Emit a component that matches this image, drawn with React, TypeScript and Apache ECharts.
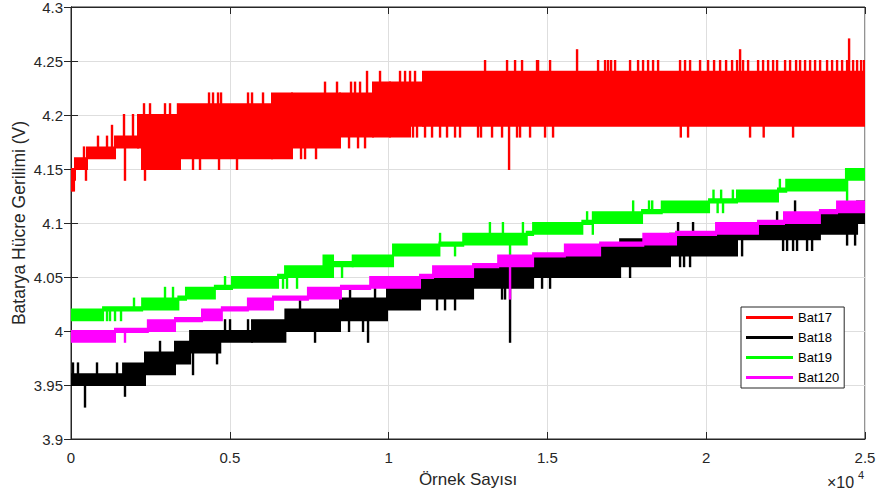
import React, { useEffect, useRef } from 'react';
import * as echarts from 'echarts';

// ---------- data (x in samples, y in volts) ----------
const xMax = 25000;
const xTickLabels = ['0', '0.5', '1', '1.5', '2', '2.5'];
const yTickLabels = ['3.9', '3.95', '4', '4.05', '4.1', '4.15', '4.2', '4.25', '4.3'];
const seriesNames = ['Bat17', 'Bat18', 'Bat19', 'Bat120'];
const seriesColors = ['#ff0000', '#000000', '#00ff00', '#ff00ff'];

// Bat17: band segments (start sample, low level, high level) + spikes
const bat17Start = [0, 126, 504, 1386, 2110, 2236, 3432, 6329, 6958, 8470, 9509, 10044, 10674, 11083];
const bat17Lo = [4.14, 4.15, 4.16, 4.17, 4.17, 4.15, 4.16, 4.16, 4.17, 4.18, 4.18, 4.18, 4.19, 4.19];
const bat17Hi = [4.15, 4.16, 4.17, 4.18, 4.2, 4.2, 4.21, 4.22, 4.22, 4.22, 4.23, 4.23, 4.23, 4.24];
const bat17SpikeX = [30, 90, 409, 472, 850, 1134, 1291, 1669, 1700, 1952, 2299, 2330, 2488, 2960, 3118, 3369,
  3842, 4062, 4661, 5227, 4346, 4472, 4629, 4724, 5574, 5700, 6046, 7243, 7369, 7715, 8754, 9038, 9258,
  7998, 8376, 8817, 8943, 9101, 9321, 9730, 10360, 10518, 10675, 10832,
  13037, 13730, 13793, 13982, 14202, 14674, 14706, 15084, 15934, 16595, 16816, 16910, 17005, 17131, 17603,
  17855, 18012, 18170, 18327, 18485, 19177, 19334, 19492, 19807, 20059, 20248, 20437, 20626, 20815, 20972,
  21067, 21161, 21319, 21634, 21791, 21949, 22106, 22232, 22484, 22641, 22830, 22956, 23113, 23271, 23428,
  23586, 23806, 23964, 24121, 24279, 24436, 24499, 24625, 24751, 24877, 24971,
  10769, 10895, 11147, 11368, 11620, 11840, 12092, 12249, 12816, 12910, 13257, 13572, 14044, 14139, 14454,
  14926, 15178, 19200, 19429, 21381, 21810, 22735];
const bat17SpikeV = [4.13, 4.13, 4.17, 4.14, 4.18, 4.18, 4.19, 4.2, 4.14, 4.2, 4.21, 4.14, 4.21, 4.21, 4.21, 4.21,
  4.15, 4.15, 4.15, 4.15, 4.22, 4.22, 4.22, 4.22, 4.22, 4.22, 4.22, 4.16, 4.16, 4.16, 4.17, 4.17, 4.17,
  4.23, 4.23, 4.23, 4.23, 4.23, 4.24, 4.24, 4.24, 4.24, 4.24, 4.24,
  4.25, 4.25, 4.15, 4.25, 4.25, 4.25, 4.25, 4.25, 4.26, 4.25, 4.25, 4.25, 4.25, 4.25, 4.25,
  4.25, 4.25, 4.25, 4.25, 4.25, 4.25, 4.25, 4.25, 4.25, 4.25, 4.25, 4.25, 4.25, 4.25, 4.25,
  4.26, 4.25, 4.25, 4.25, 4.25, 4.25, 4.25, 4.25, 4.25, 4.25, 4.25, 4.25, 4.25, 4.25, 4.25,
  4.25, 4.25, 4.25, 4.25, 4.25, 4.25, 4.27, 4.25, 4.25, 4.25, 4.25,
  4.18, 4.18, 4.18, 4.18, 4.18, 4.18, 4.18, 4.18, 4.18, 4.18, 4.18, 4.18, 4.18, 4.18, 4.18,
  4.18, 4.18, 4.18, 4.18, 4.18, 4.18, 4.18];

// Bat18
const bat18Start = [0, 1640, 2330, 3275, 3750, 4700, 5700, 6750, 8470, 9950, 10990, 12660, 14550, 16660, 17290, 18860, 20970, 23580, 24750];
const bat18Lo = [3.95, 3.95, 3.96, 3.97, 3.98, 3.99, 3.99, 4.0, 4.01, 4.02, 4.03, 4.04, 4.05, 4.05, 4.06, 4.07, 4.085, 4.09, 4.1];
const bat18Hi = [3.96, 3.97, 3.98, 3.99, 4.0, 4.0, 4.01, 4.02, 4.03, 4.04, 4.05, 4.06, 4.07, 4.08, 4.085, 4.09, 4.1, 4.11, 4.12];
const bat18SpikeX = [63, 220, 441, 819, 1449, 1700, 2803, 3842, 4598, 4850, 5007, 5574, 7211, 7684, 8754, 9195, 9353,
  8786, 9573, 13824, 11525, 11777, 12092, 13572, 13667, 14832, 15084, 17603, 19177, 19303, 19492, 21130,
  22421, 22547, 22735, 22861, 23176, 23334, 19114, 19586, 22232, 22798, 24436, 24688];
const bat18SpikeV = [3.97, 3.97, 3.93, 3.97, 3.97, 3.94, 3.99, 3.96, 3.97, 4.01, 4.01, 4.01, 4.03, 3.99, 4.0, 4.0, 3.99,
  4.04, 4.04, 3.99, 4.02, 4.02, 4.02, 4.03, 4.03, 4.04, 4.04, 4.05, 4.06, 4.06, 4.06, 4.07,
  4.075, 4.075, 4.075, 4.075, 4.075, 4.075, 4.1, 4.1, 4.11, 4.12, 4.08, 4.08];

// Bat19
const bat19Start = [0, 1010, 2240, 3380, 3620, 4530, 5070, 6520, 6740, 7950, 8250, 8870, 10140, 11600, 12350, 14350, 14550, 16100, 16430, 17980, 18600, 20090, 20970, 22260, 22520, 24400];
const bat19Lo = [4.01, 4.019, 4.02, 4.029, 4.03, 4.039, 4.04, 4.049, 4.05, 4.05, 4.06, 4.06, 4.07, 4.079, 4.08, 4.089, 4.09, 4.099, 4.1, 4.109, 4.11, 4.119, 4.12, 4.129, 4.13, 4.14];
const bat19Hi = [4.02, 4.022, 4.03, 4.032, 4.04, 4.042, 4.05, 4.052, 4.06, 4.07, 4.064, 4.07, 4.08, 4.082, 4.09, 4.092, 4.1, 4.102, 4.11, 4.112, 4.12, 4.122, 4.13, 4.132, 4.14, 4.15];
const bat19SpikeX = [1134, 1228, 1386, 1575, 1984, 2960, 3212, 4850, 6676, 6802, 7117, 8534, 11620, 12092, 13190, 13600,
  14230, 13824, 16250, 16430, 17700, 18200, 18300, 20230, 20470, 20840, 20360, 20530, 22320, 24436];
const bat19SpikeV = [4.01, 4.01, 4.01, 4.01, 4.03, 4.04, 4.04, 4.05, 4.04, 4.04, 4.04, 4.05, 4.09, 4.07, 4.1, 4.1,
  4.1, 4.07, 4.11, 4.09, 4.12, 4.12, 4.12, 4.13, 4.13, 4.13, 4.11, 4.11, 4.14, 4.12];

// Bat120
const bat120Start = [0, 1386, 2420, 3275, 4125, 4750, 5570, 6360, 7460, 8500, 9420, 10990, 11400, 12660, 13450, 14550, 15550, 16660, 18020, 19050, 20310, 21630, 22450, 23580, 24120];
const bat120Lo = [3.99, 3.999, 4.0, 4.009, 4.01, 4.019, 4.02, 4.029, 4.03, 4.039, 4.04, 4.049, 4.05, 4.059, 4.06, 4.069, 4.07, 4.079, 4.08, 4.089, 4.09, 4.099, 4.1, 4.109, 4.11];
const bat120Hi = [4.0, 4.002, 4.01, 4.012, 4.02, 4.022, 4.03, 4.032, 4.04, 4.042, 4.05, 4.052, 4.06, 4.062, 4.07, 4.072, 4.08, 4.082, 4.09, 4.092, 4.1, 4.102, 4.11, 4.112, 4.12];
const bat120SpikeX = [1700, 13824];
const bat120SpikeV = [3.99, 4.03];

// ---------- helpers ----------
const FONT = '"Liberation Sans", Arial, Helvetica, sans-serif';
const AXIS = '#262626';

function bands(start: number[], lo: number[], hi: number[]) {
  return start.map((s, i) => [s, i + 1 < start.length ? start[i + 1] : xMax, lo[i], hi[i]]);
}
function spikes(sx: number[], sv: number[], start: number[], lo: number[], hi: number[]) {
  return sx.map((x, i) => {
    let k = 0;
    while (k + 1 < start.length && start[k + 1] <= x) k++;
    const v = sv[i];
    const base = v > hi[k] ? hi[k] : lo[k];
    return [x, v, base];
  });
}
const bandRender = (color: string) => (_p: any, api: any) => {
  const a = api.coord([api.value(0), api.value(3)]);
  const b = api.coord([api.value(1), api.value(2)]);
  return {
    type: 'rect',
    shape: { x: a[0], y: a[1], width: b[0] - a[0], height: b[1] - a[1] },
    style: { fill: color, stroke: color, lineWidth: 2 },
  };
};
const spikeRender = (color: string) => (_p: any, api: any) => {
  const a = api.coord([api.value(0), api.value(1)]);
  const b = api.coord([api.value(0), api.value(2)]);
  return {
    type: 'rect',
    shape: { x: a[0] - 1.2, y: Math.min(a[1], b[1]) - 1, width: 2.4, height: Math.abs(b[1] - a[1]) + 2 },
    style: { fill: color },
  };
};

const allData = [
  [bat17Start, bat17Lo, bat17Hi, bat17SpikeX, bat17SpikeV],
  [bat18Start, bat18Lo, bat18Hi, bat18SpikeX, bat18SpikeV],
  [bat19Start, bat19Lo, bat19Hi, bat19SpikeX, bat19SpikeV],
  [bat120Start, bat120Lo, bat120Hi, bat120SpikeX, bat120SpikeV],
];

export default function App() {
  const ref = useRef<HTMLDivElement>(null);
  useEffect(() => {
    if (!ref.current) return;
    const chart = echarts.init(ref.current, undefined, { renderer: 'svg' });
    const series: any[] = [];
    allData.forEach((d, i) => {
      const [st, lo, hi, sx, sv] = d as number[][];
      const color = seriesColors[i];
      series.push({
        type: 'custom', name: seriesNames[i], renderItem: bandRender(color),
        data: bands(st, lo, hi), encode: { x: [0, 1], y: [2, 3] },
        itemStyle: { color }, clip: true, silent: true, z: 2 + i,
      });
      series.push({
        type: 'custom', name: seriesNames[i], renderItem: spikeRender(color),
        data: spikes(sx, sv, st, lo, hi), encode: { x: 0, y: [1, 2] },
        itemStyle: { color }, clip: true, silent: true, z: 2 + i,
      });
    });
    const option: any = {
      animation: false,
      backgroundColor: '#ffffff',
      textStyle: { fontFamily: FONT },
      grid: {
        left: 71, right: 12, top: 7, bottom: 54, containLabel: false, outerBoundsMode: 'none',
        show: true, borderColor: AXIS, borderWidth: 1, backgroundColor: '#fff',
      },
      legend: {
        orient: 'vertical', left: 741, top: 307, padding: [4, 5, 4, 5], itemGap: 7,
        itemWidth: 47, itemHeight: 3, icon: 'rect',
        backgroundColor: '#fff', borderColor: AXIS, borderWidth: 1, borderRadius: 0,
        textStyle: { fontSize: 13, color: '#000', fontFamily: FONT },
        data: seriesNames.map((n, i) => ({ name: n, itemStyle: { color: seriesColors[i] } })),
      },
      xAxis: [
        {
          type: 'value', min: 0, max: xMax, interval: 5000,
          axisLine: { show: true, lineStyle: { color: AXIS } },
          axisTick: { show: true, inside: true, length: 7, lineStyle: { color: AXIS } },
          axisLabel: {
            color: AXIS, fontSize: 15, margin: 11, fontFamily: FONT,
            formatter: (v: number) => xTickLabels[Math.round(v / 5000)] ?? '',
          },
          splitLine: { show: true, lineStyle: { color: '#dedede' } },
          name: 'Örnek Sayısı', nameLocation: 'middle', nameGap: 32, nameMoveOverlap: false,
          nameTextStyle: { fontSize: 17, color: AXIS, fontFamily: FONT },
        },
        {
          type: 'value', position: 'top', min: 0, max: xMax, interval: 5000,
          axisLine: { show: true, lineStyle: { color: AXIS } },
          axisTick: { show: true, inside: true, length: 7, lineStyle: { color: AXIS } },
          axisLabel: { show: false }, splitLine: { show: false },
        },
      ],
      yAxis: [
        {
          type: 'value', min: 3.9, max: 4.3, interval: 0.05,
          axisLine: { show: true, lineStyle: { color: AXIS } },
          axisTick: { show: true, inside: true, length: 7, lineStyle: { color: AXIS } },
          axisLabel: {
            color: AXIS, fontSize: 15, margin: 8, fontFamily: FONT,
            formatter: (v: number) => yTickLabels[Math.round((v - 3.9) / 0.05)] ?? '',
          },
          splitLine: { show: true, lineStyle: { color: '#dedede' } },
          name: 'Batarya Hücre Gerilimi (V)', nameLocation: 'middle', nameGap: 43, nameMoveOverlap: false,
          nameTextStyle: { fontSize: 17.5, color: AXIS, fontFamily: FONT },
        },
        {
          type: 'value', position: 'right', min: 3.9, max: 4.3, interval: 0.05,
          axisLine: { show: true, lineStyle: { color: AXIS } },
          axisTick: { show: true, inside: true, length: 7, lineStyle: { color: AXIS } },
          axisLabel: { show: false }, splitLine: { show: false },
        },
      ],
      graphic: [
        { type: 'text', left: 827, top: 474, style: { text: '×10', fontSize: 16, fill: AXIS, fontFamily: FONT } },
        { type: 'text', left: 858, top: 469, style: { text: '4', fontSize: 11, fill: AXIS, fontFamily: FONT } },
      ],
      series,
    };
    chart.setOption(option);
    return () => chart.dispose();
  }, []);
  return <div ref={ref} style={{ position: 'fixed', left: 0, top: 0, width: 877, height: 493, background: '#fff' }} />;
}
